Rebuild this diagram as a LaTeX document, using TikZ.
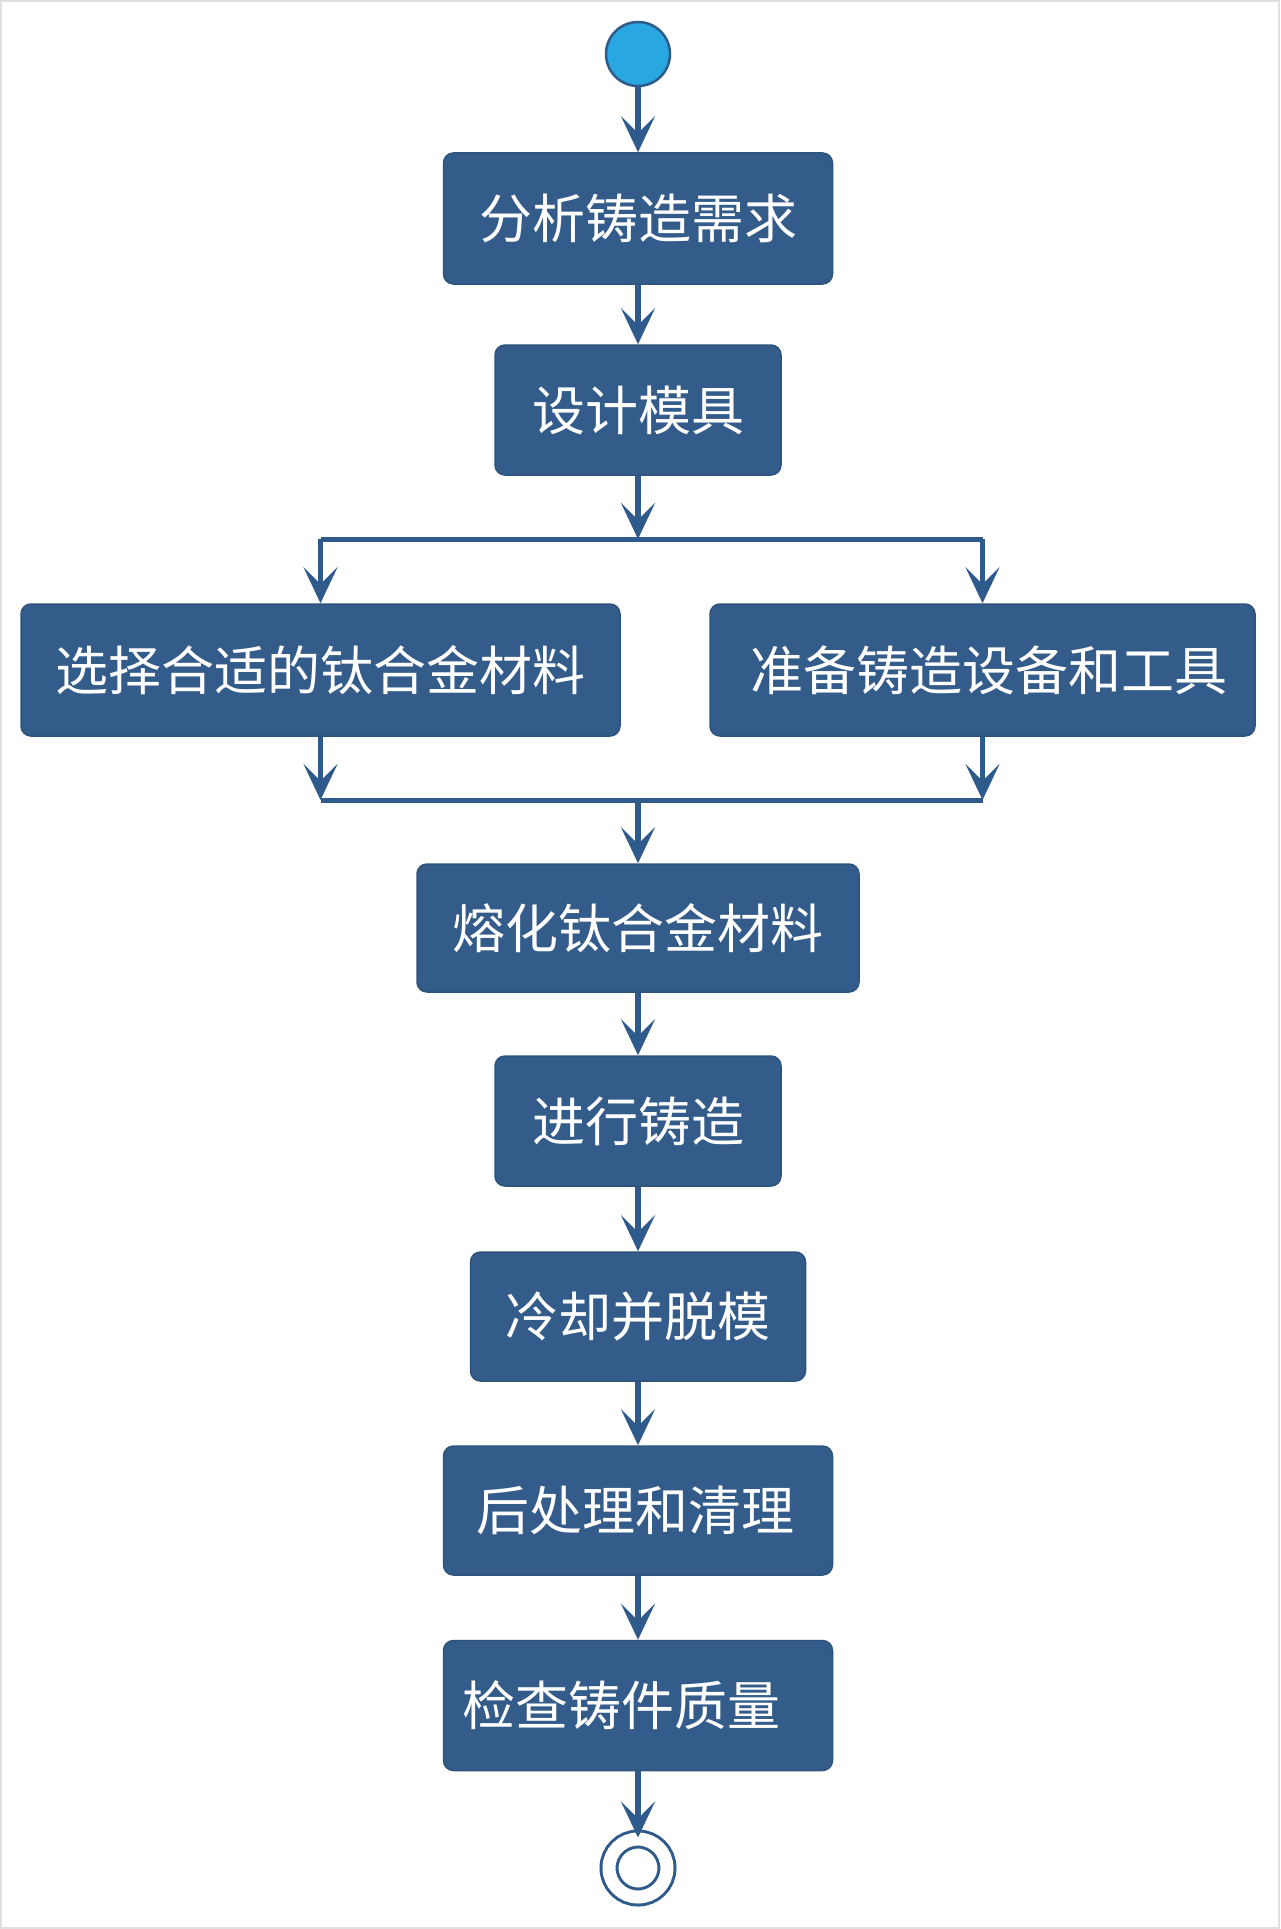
\documentclass[tikz,border=0pt]{standalone}
\usepackage{fontspec}
\newfontfamily\cjk{Noto Sans CJK SC}
\usetikzlibrary{arrows.meta, positioning}

\definecolor{boxblue}{HTML}{335C8B}
\definecolor{lineblue}{HTML}{2F5B8C}
\definecolor{startblue}{HTML}{29A7E1}

\tikzset{
  stepbox/.style={draw=boxblue!90!black, line width=1.5pt, fill=boxblue, rounded corners=10pt,
    text=white, font=\cjk\fontsize{53}{60}\selectfont, inner sep=0pt},
  flow/.style={draw=lineblue, line width=6pt, -{Stealth[length=36pt, width=34pt, inset=17pt]}},
  bar/.style={draw=lineblue, line width=5pt},
}

\begin{document}
\begin{tikzpicture}[x=1pt, y=-1pt]
  % frame of the page
  \draw[gray!25, line width=2pt] (1,1) rectangle (1279,1928);
  \useasboundingbox (0,0) rectangle (1280,1929);

  % start and end
  \node[circle, draw=lineblue, line width=2.5pt, fill=startblue, minimum size=64pt] (start) at (638,54) {};
  \node[circle, draw=lineblue, line width=3pt, double=white, double distance=13pt, minimum size=58pt, inner sep=0pt] (stop) at (638,1868) {};

  % actions
  \node[stepbox, minimum width=389pt, minimum height=131pt] (analyse) at (638,218.5) {分析铸造需求};
  \node[stepbox, minimum width=286pt, minimum height=130pt] (mould) at (638,410) {设计模具};
  \node[stepbox, minimum width=599pt, minimum height=132pt] (material) at (320.5,670) {选择合适的钛合金材料};
  \node[stepbox, minimum width=545pt, minimum height=132pt] (equip) at (982.5,670) {\mbox{}\hspace{12pt}准备铸造设备和工具};
  \node[stepbox, minimum width=442pt, minimum height=128pt] (melt) at (638,928) {熔化钛合金材料};
  \node[stepbox, minimum width=286pt, minimum height=130pt] (cast) at (638,1121) {进行铸造};
  \node[stepbox, minimum width=335pt, minimum height=129pt] (cool) at (638,1316.5) {冷却并脱模};
  \node[stepbox, minimum width=389pt, minimum height=129pt] (clean) at (638,1510.5) {后处理和清理\hspace{6pt}\mbox{}};
  \node[stepbox, minimum width=389pt, minimum height=130pt] (inspect) at (638,1705.5) {检查铸件质量\hspace{34pt}\mbox{}};

  % fork and join bars
  \coordinate (forkL) at (320.5,539);
  \coordinate (forkC) at (638,539);
  \coordinate (forkR) at (982.5,539);
  \coordinate (joinL) at (320.5,800);
  \coordinate (joinC) at (638,800);
  \coordinate (joinR) at (982.5,800);

  \draw[flow] (start) -- (analyse);
  \draw[flow] (analyse) -- (mould);
  \draw[flow] (mould) -- (forkC);
  \draw[bar] (forkL) -- (forkR);
  \draw[flow, line width=5pt] (forkL) -- (material);
  \draw[flow, line width=5pt] (forkR) -- (equip);
  \draw[flow, line width=5pt] (material) -- (joinL);
  \draw[flow, line width=5pt] (equip) -- (joinR);
  \draw[bar] (joinL) -- (joinR);
  \draw[flow] (joinC) -- (melt);
  \draw[flow] (melt) -- (cast);
  \draw[flow] (cast) -- (cool);
  \draw[flow] (cool) -- (clean);
  \draw[flow] (clean) -- (inspect);
  \draw[flow] (inspect) -- (stop);
\end{tikzpicture}
\end{document}
